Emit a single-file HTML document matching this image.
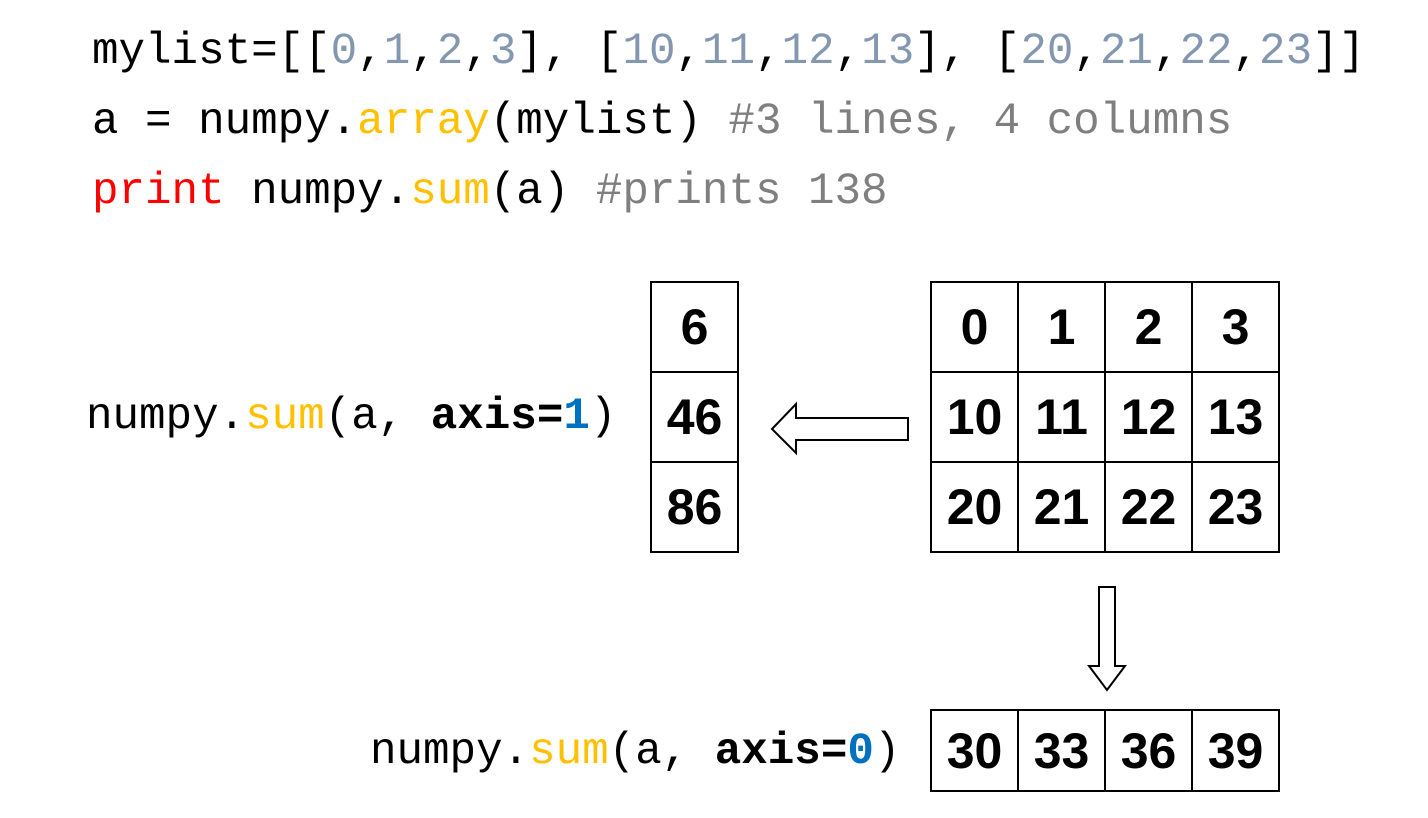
<!DOCTYPE html>
<html><head><style>
body{margin:0;width:1428px;height:818px;background:#fff;position:relative;overflow:hidden}
.code{position:absolute;font-family:"Liberation Mono",monospace;font-size:44.2px;white-space:pre;color:#000;line-height:1}
.n{color:#8497b0}.o{color:#ffc000}.c{color:#7f7f7f}.r{color:#ff0000}.b{color:#0070c0;font-weight:bold}
table{position:absolute;border-collapse:collapse}
td{border:2px solid #000;padding:0;text-align:center;font-family:"Liberation Sans Narrow","Liberation Sans",sans-serif;font-weight:bold;font-size:50px;width:85px;height:88px;line-height:1}
.bt td{height:79px}
</style></head><body>
<div class="code" style="left:92px;top:30px">mylist=[[<span class="n">0</span>,<span class="n">1</span>,<span class="n">2</span>,<span class="n">3</span>], [<span class="n">10</span>,<span class="n">11</span>,<span class="n">12</span>,<span class="n">13</span>], [<span class="n">20</span>,<span class="n">21</span>,<span class="n">22</span>,<span class="n">23</span>]]</div>
<div class="code" style="left:92px;top:100px">a = numpy.<span class="o">array</span>(mylist) <span class="c">#3 lines, 4 columns</span></div>
<div class="code" style="left:92px;top:170px"><span class="r">print</span> numpy.<span class="o">sum</span>(a) <span class="c">#prints 138</span></div>
<div class="code" style="left:86px;top:395px">numpy.<span class="o">sum</span>(a, <b>axis=</b><span class="b">1</span>)</div>
<div class="code" style="left:370px;top:730px">numpy.<span class="o">sum</span>(a, <b>axis=</b><span class="b">0</span>)</div>
<table style="left:650px;top:281px"><tr><td>6</td></tr><tr><td>46</td></tr><tr><td>86</td></tr></table>
<table style="left:930px;top:281px"><tr><td>0</td><td>1</td><td>2</td><td>3</td></tr><tr><td>10</td><td>11</td><td>12</td><td>13</td></tr><tr><td>20</td><td>21</td><td>22</td><td>23</td></tr></table>
<table class="bt" style="left:930px;top:709px"><tr><td>30</td><td>33</td><td>36</td><td>39</td></tr></table>
<svg style="position:absolute;left:0;top:0" width="1428" height="818">
<polygon points="908,418 796,418 796,404 772,429 796,453 796,440 908,440" fill="#fff" stroke="#000" stroke-width="2"/>
<polygon points="1099,587 1115,587 1115,666 1125,666 1107,690 1089,666 1099,666" fill="#fff" stroke="#000" stroke-width="2"/>
</svg>
</body></html>
